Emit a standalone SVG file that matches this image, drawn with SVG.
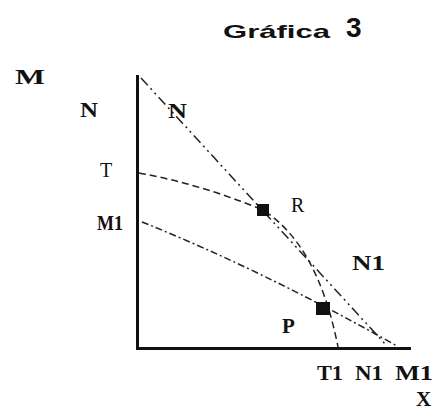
<svg xmlns="http://www.w3.org/2000/svg" width="437" height="413" viewBox="0 0 437 413">
<style>
.lbl{font-family:"Liberation Serif",serif;font-weight:bold;font-size:21px;fill:#111}
.lr{font-family:"Liberation Serif",serif;font-size:20px;fill:#111}
.axis{stroke:#111;stroke-width:3;fill:none}
.c{stroke:#222;stroke-width:1.5;fill:none}
.pt{fill:#111}
</style>
<rect width="437" height="413" fill="#fff"/>
<g id="title">
<text x="223" y="38" font-family="Liberation Sans,sans-serif" font-weight="bold" font-size="19" textLength="107" lengthAdjust="spacingAndGlyphs" fill="#111">Gráfica</text>
<text x="346" y="37" font-family="Liberation Sans,sans-serif" font-weight="bold" font-size="28" fill="#111">3</text>
</g>
<g id="axes">
<line class="axis" x1="137.5" y1="75" x2="137.5" y2="349"/>
<line class="axis" x1="136" y1="348.5" x2="411" y2="348.5"/>
</g>
<g id="connectors">
<path id="curveN" class="c" stroke-dasharray="10,4,2,4,2,4" d="M141,78 L387,346"/>
<path id="curveT" class="c" stroke-dasharray="7,4" d="M139,173 Q200,184 263,210 Q318,245 338,347"/>
<path id="curveM1" class="c" stroke-dasharray="7,3,2,3" d="M142,222 Q262,270 397,346"/>
</g>
<g id="R"><rect class="pt" x="257" y="204" width="12" height="12"/><text class="lr" x="291" y="212">R</text></g>
<g id="P"><rect class="pt" x="316" y="302" width="14" height="13"/><text class="lbl" x="282" y="333">P</text></g>
<g id="labels">
<text class="lbl" x="15" y="84" textLength="30" lengthAdjust="spacingAndGlyphs">M</text>
<text class="lbl" x="80" y="117" textLength="18" lengthAdjust="spacingAndGlyphs">N</text>
<text class="lbl" x="168" y="118" textLength="19" lengthAdjust="spacingAndGlyphs">N</text>
<text class="lr" x="100" y="177">T</text>
<text class="lbl" x="97" y="230" textLength="26" lengthAdjust="spacingAndGlyphs">M1</text>
<text class="lbl" x="352" y="270" textLength="33" lengthAdjust="spacingAndGlyphs">N1</text>
<text class="lbl" x="317" y="380" textLength="26" lengthAdjust="spacingAndGlyphs">T1</text>
<text class="lbl" x="355" y="380" textLength="28" lengthAdjust="spacingAndGlyphs">N1</text>
<text class="lbl" x="395" y="380" textLength="38" lengthAdjust="spacingAndGlyphs">M1</text>
<text class="lbl" x="416" y="406" font-size="18">X</text>
</g>
</svg>
